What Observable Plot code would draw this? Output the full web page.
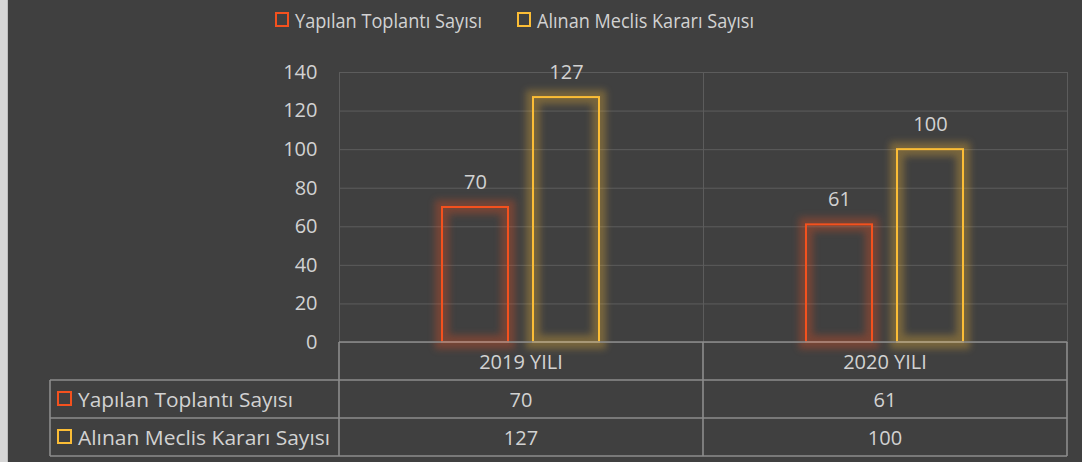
<!DOCTYPE html>
<html><head><meta charset="utf-8">
<script src="https://cdn.jsdelivr.net/npm/d3@7"></script>
<script src="https://cdn.jsdelivr.net/npm/@observablehq/plot@0.6"></script>
<style>
html,body{margin:0;padding:0;background:#404040;overflow:hidden;}
#chart{position:absolute;left:0;top:0;}
#strip{position:absolute;left:0;top:0;width:7px;height:462px;background:#d6d6d6;border-right:1px solid #bdbdbd;}
.glow{filter:blur(3.5px);}
</style></head><body>
<div id="chart"></div><div id="strip"></div>
<script>
const categories = ["2019 YILI", "2020 YILI"];
const seriesNames = ["Yapılan Toplantı Sayısı", "Alınan Meclis Kararı Sayısı"];
const toplanti = [70, 61];
const karar = [127, 100];
const yTicks = [0, 20, 40, 60, 80, 100, 120, 140];
const colors = ["#f4511e", "#fbbd36"];

const data = categories.flatMap((c, i) => [
  {category: c, series: seriesNames[0], value: toplanti[i]},
  {category: c, series: seriesNames[1], value: karar[i]}
]);
const seriesValues = [toplanti, karar];

const textColor = "#d2d2d2";
const font = "Open Sans";

const plot = Plot.plot({
  width: 1082, height: 462,
  marginLeft: 338, marginRight: 15, marginTop: 72, marginBottom: 120,
  style: {background: "#404040", color: textColor, fontFamily: font, fontSize: "20px", overflow: "visible"},
  fx: {domain: categories, padding: 0, axis: null, label: null},
  x: {domain: seriesNames, paddingInner: 0.2717, paddingOuter: 1.119, axis: null},
  y: {domain: [0, 140], axis: null},
  color: {domain: seriesNames, range: colors},
  marks: [
    Plot.gridY(yTicks, {stroke: "#5c5c5c", strokeOpacity: 1, strokeWidth: 1}),
    Plot.frame({stroke: "#5c5c5c", strokeWidth: 1}),
    Plot.axisY(yTicks, {tickSize: 0, tickPadding: 22, fontSize: 20, fill: textColor, label: null}),
    Plot.barY(data, {fx: "category", x: "series", y: "value", fill: "none", stroke: "series", strokeWidth: 14, strokeOpacity: 0.3, className: "glow"}),
    Plot.barY(data, {fx: "category", x: "series", y: "value", fill: "none", stroke: "series", strokeWidth: 2}),
    Plot.text(data, {fx: "category", x: "series", y: "value", text: d => String(d.value), dy: -25, fill: textColor, fontSize: 20})
  ]
});
document.getElementById("chart").appendChild(plot);

// fallback for glow blur
d3.select(plot).selectAll('g[stroke-width="14"]').style("filter", "blur(3.5px)");

const svg = d3.select(plot);
const fx = plot.scale("fx");
const ys = plot.scale("y");
const y0 = ys.apply(0);
const rowH = 38;
const xL = fx.apply(categories[0]);
const xR = fx.apply(categories[categories.length - 1]) + fx.bandwidth;
const tableLeft = 50;
const lineColor = "#8c8c8c";

const t = svg.append("g").attr("stroke", lineColor).attr("stroke-width", 1.6);
t.append("line").attr("x1", xL).attr("x2", xR).attr("y1", y0).attr("y2", y0);
for (let r = 1; r <= 3; r++) {
  t.append("line").attr("x1", tableLeft).attr("x2", xR).attr("y1", y0 + r * rowH).attr("y2", y0 + r * rowH);
}
t.append("line").attr("x1", tableLeft).attr("x2", tableLeft).attr("y1", y0 + rowH).attr("y2", y0 + 3 * rowH);
categories.forEach(c => {
  const x = fx.apply(c);
  t.append("line").attr("x1", x).attr("x2", x).attr("y1", y0).attr("y2", y0 + 3 * rowH);
});
t.append("line").attr("x1", xR).attr("x2", xR).attr("y1", y0).attr("y2", y0 + 3 * rowH);

const txt = svg.append("g").attr("fill", textColor).attr("font-family", font).attr("font-size", 20).attr("text-anchor", "start");
categories.forEach((c, i) => {
  const cx = fx.apply(c) + fx.bandwidth / 2;
  txt.append("text").attr("x", cx).attr("y", y0 + rowH / 2).attr("text-anchor", "middle").attr("dominant-baseline", "central").text(c);
  seriesValues.forEach((vals, s) => {
    txt.append("text").attr("x", cx).attr("y", y0 + rowH * (s + 1.5)).attr("text-anchor", "middle").attr("dominant-baseline", "central").text(String(vals[i]));
  });
});
const labelWidths = [215, 252];
seriesNames.forEach((s, k) => {
  const cy = y0 + rowH * (k + 1.5);
  svg.append("rect").attr("x", 58).attr("y", cy - 7).attr("width", 13).attr("height", 13)
    .attr("fill", "none").attr("stroke", colors[k]).attr("stroke-width", 2);
  txt.append("text").attr("x", 78).attr("y", cy).attr("text-anchor", "start").attr("dominant-baseline", "central")
    .attr("textLength", labelWidths[k]).attr("lengthAdjust", "spacingAndGlyphs").text(s);
});

const legX = [276, 518];
const legW = [187, 217];
seriesNames.forEach((s, k) => {
  svg.append("rect").attr("x", legX[k]).attr("y", 13).attr("width", 12).attr("height", 13)
    .attr("fill", "none").attr("stroke", colors[k]).attr("stroke-width", 2);
  txt.append("text").attr("x", legX[k] + 19).attr("y", 20).attr("text-anchor", "start").attr("dominant-baseline", "central")
    .attr("textLength", legW[k]).attr("lengthAdjust", "spacingAndGlyphs").text(s);
});
</script>
</body></html>
